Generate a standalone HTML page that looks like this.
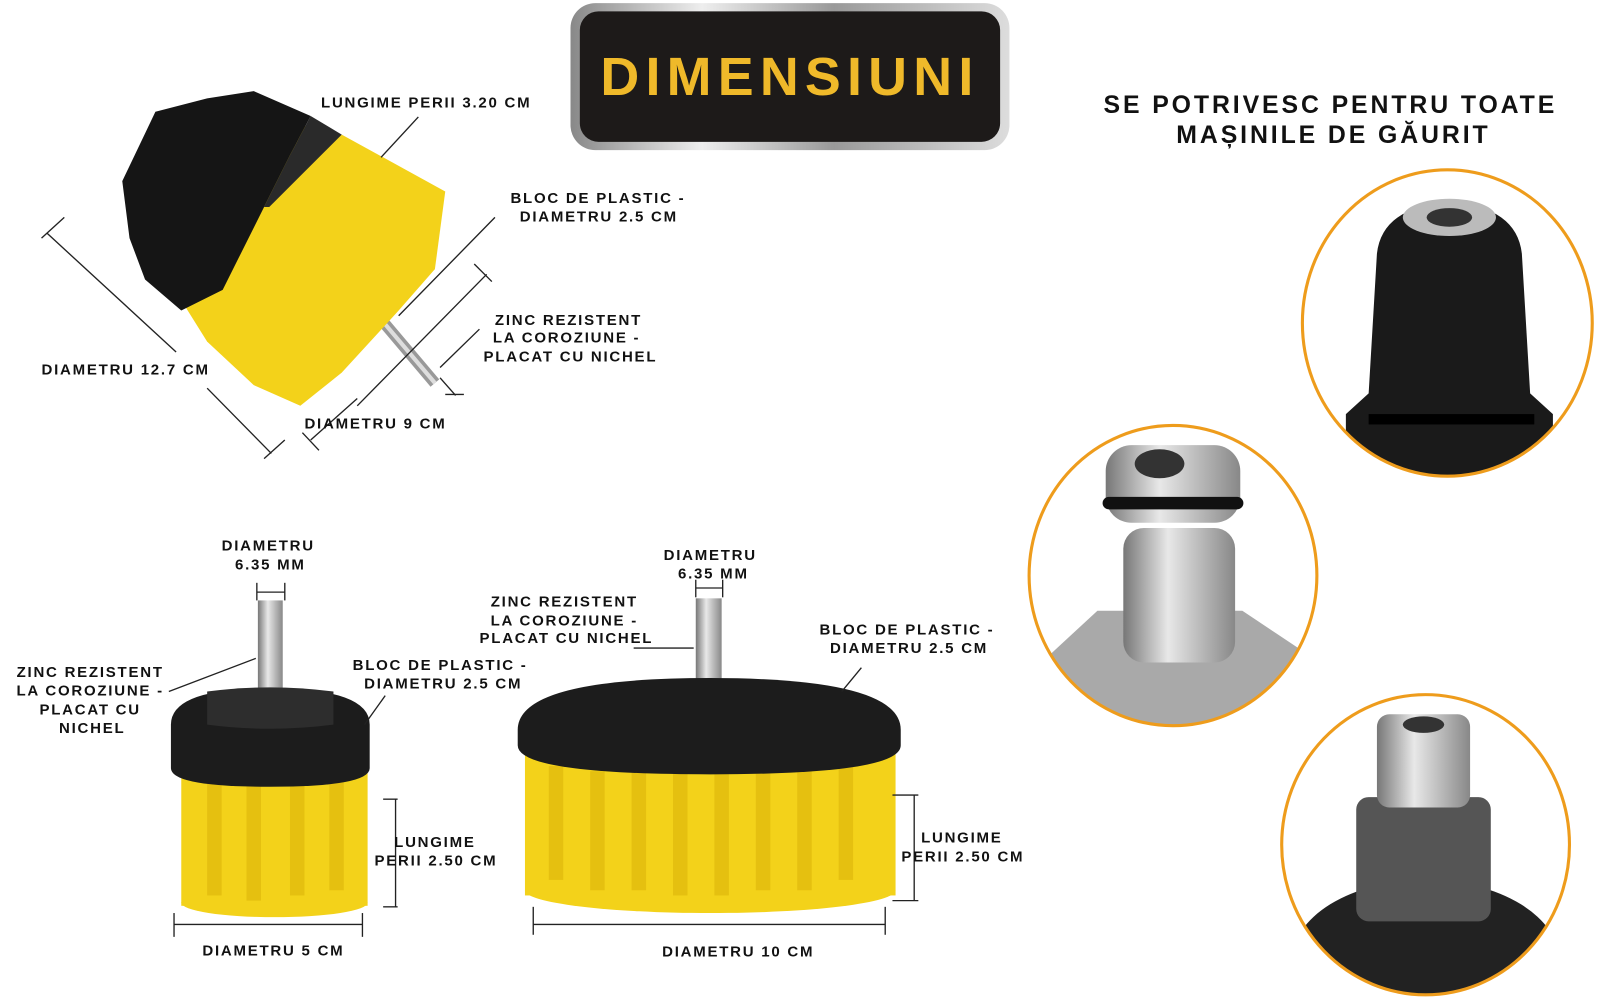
<!DOCTYPE html>
<html><head><meta charset="utf-8"><style>
html,body{margin:0;padding:0;background:#fff;}
svg{display:block}
text{font-family:"Liberation Sans",sans-serif;font-weight:bold;fill:#111;}
.l{font-size:14.5px;letter-spacing:1.7px;}
</style></head><body>
<svg width="1611" height="1000" viewBox="0 0 1556 966" xmlns="http://www.w3.org/2000/svg">
<defs>
<linearGradient id="sil" x1="0" y1="0" x2="1" y2="0"><stop offset="0" stop-color="#888"/><stop offset="0.3" stop-color="#eee"/><stop offset="0.6" stop-color="#999"/><stop offset="1" stop-color="#ddd"/></linearGradient>
<linearGradient id="met" x1="0" y1="0" x2="1" y2="0"><stop offset="0" stop-color="#777"/><stop offset="0.4" stop-color="#e8e8e8"/><stop offset="1" stop-color="#888"/></linearGradient>
<clipPath id="c1"><ellipse cx="1398" cy="312" rx="140" ry="148"/></clipPath>
<clipPath id="c2"><ellipse cx="1133" cy="556" rx="139" ry="145"/></clipPath>
<clipPath id="c3"><ellipse cx="1377" cy="816" rx="139" ry="145"/></clipPath>
</defs>
<!-- title -->
<rect x="551" y="3" width="424" height="142" rx="24" fill="url(#sil)"/>
<rect x="560" y="11" width="406" height="126" rx="18" fill="#1d1a19"/>
<text x="763" y="92" text-anchor="middle" style="font-size:52px;letter-spacing:6px;fill:#efb92a">DIMENSIUNI</text>
<text x="1285" y="109" text-anchor="middle" style="font-size:24px;letter-spacing:2.8px">SE POTRIVESC PENTRU TOATE</text>
<text x="1288" y="138" text-anchor="middle" style="font-size:24px;letter-spacing:2.8px">MAȘINILE DE GĂURIT</text>

<!-- top brush -->
<line x1="365" y1="305" x2="420" y2="370" stroke="#999" stroke-width="11"/>
<line x1="365" y1="305" x2="420" y2="370" stroke="#ddd" stroke-width="4"/>
<polygon points="245,110 330,130 430,185 420,260 385,300 330,360 290,392 245,372 200,330 175,290 205,200" fill="#f3d21a"/>
<polygon points="118,175 150,108 200,95 245,88 300,112 280,150 255,200 230,250 215,280 175,300 140,270 125,230" fill="#151515"/>
<polygon points="300,112 330,130 300,160 260,200 255,200 280,150" fill="#2a2a2a"/>
<!-- top dim lines -->
<g stroke="#222" stroke-width="1.3" fill="none">
<line x1="45" y1="225" x2="170" y2="340"/><line x1="200" y1="375" x2="262" y2="438"/>
<line x1="40" y1="230" x2="62" y2="210"/><line x1="255" y1="443" x2="275" y2="425"/>
<line x1="300" y1="425" x2="345" y2="385"/><line x1="345" y1="392" x2="470" y2="265"/>
<line x1="292" y1="418" x2="308" y2="435"/><line x1="458" y1="255" x2="475" y2="272"/>
<line x1="368" y1="152" x2="404" y2="113"/>
<line x1="385" y1="305" x2="478" y2="210"/>
<line x1="425" y1="355" x2="463" y2="318"/>
<line x1="425" y1="365" x2="440" y2="382"/><line x1="430" y1="381" x2="448" y2="381"/>
</g>
<text class="l" x="310" y="104">LUNGIME PERII 3.20 CM</text>
<text class="l" x="493" y="196">BLOC DE PLASTIC -</text>
<text class="l" x="502" y="214">DIAMETRU 2.5 CM</text>
<text class="l" x="478" y="314">ZINC REZISTENT</text>
<text class="l" x="476" y="331">LA COROZIUNE -</text>
<text class="l" x="467" y="349">PLACAT CU NICHEL</text>
<text class="l" x="40" y="362">DIAMETRU 12.7 CM</text>
<text class="l" x="294" y="414">DIAMETRU 9 CM</text>

<!-- bottom-left brush -->
<rect x="249" y="580" width="24" height="85" fill="url(#met)"/>
<rect x="175" y="725" width="180" height="150" fill="#f3d21a"/>
<ellipse cx="265" cy="872" rx="90" ry="14" fill="#f3d21a"/>
<g fill="#e5c010"><rect x="200" y="745" width="14" height="120"/><rect x="238" y="745" width="14" height="125"/><rect x="280" y="745" width="14" height="120"/><rect x="318" y="745" width="14" height="115"/></g>
<path d="M165 700 Q165 665 260 665 Q357 665 357 700 L357 742 Q357 760 260 760 Q165 760 165 742Z" fill="#1c1c1c"/>
<path d="M200 668 L200 700 Q260 708 322 700 L322 668 Q260 660 200 668Z" fill="#2d2d2d"/>
<!-- bottom-middle brush -->
<rect x="672" y="578" width="25" height="82" fill="url(#met)"/>
<rect x="507" y="720" width="358" height="145" fill="#f3d21a"/>
<ellipse cx="686" cy="860" rx="179" ry="22" fill="#f3d21a"/>
<g fill="#e5c010"><rect x="530" y="740" width="14" height="110"/><rect x="570" y="745" width="14" height="115"/><rect x="610" y="745" width="14" height="115"/><rect x="650" y="745" width="14" height="120"/><rect x="690" y="745" width="14" height="120"/><rect x="730" y="745" width="14" height="115"/><rect x="770" y="745" width="14" height="115"/><rect x="810" y="740" width="14" height="110"/></g>
<path d="M500 705 Q500 655 686 655 Q870 655 870 705 L870 720 Q870 748 686 748 Q500 748 500 720Z" fill="#1c1c1c"/>
<g stroke="#222" stroke-width="1.3" fill="none">
<line x1="248" y1="572" x2="275" y2="572"/><line x1="248" y1="563" x2="248" y2="580"/><line x1="275" y1="563" x2="275" y2="580"/>
<line x1="672" y1="568" x2="698" y2="568"/><line x1="672" y1="560" x2="672" y2="577"/><line x1="698" y1="560" x2="698" y2="577"/>
<line x1="163" y1="668" x2="247" y2="636"/>
<line x1="352" y1="700" x2="372" y2="672"/>
<line x1="612" y1="626" x2="670" y2="626"/>
<line x1="813" y1="668" x2="832" y2="645"/>
<line x1="382" y1="772" x2="382" y2="876"/><line x1="370" y1="772" x2="384" y2="772"/><line x1="370" y1="876" x2="384" y2="876"/>
<line x1="883" y1="768" x2="883" y2="870"/><line x1="862" y1="768" x2="887" y2="768"/><line x1="862" y1="870" x2="887" y2="870"/>
<line x1="168" y1="893" x2="350" y2="893"/><line x1="168" y1="882" x2="168" y2="905"/><line x1="350" y1="882" x2="350" y2="905"/>
<line x1="515" y1="893" x2="855" y2="893"/><line x1="515" y1="876" x2="515" y2="903"/><line x1="855" y1="876" x2="855" y2="903"/>
</g>
<text class="l" x="259" y="532" text-anchor="middle">DIAMETRU</text>
<text class="l" x="261" y="550" text-anchor="middle">6.35 MM</text>
<text class="l" x="686" y="541" text-anchor="middle">DIAMETRU</text>
<text class="l" x="689" y="559" text-anchor="middle">6.35 MM</text>
<text class="l" x="87" y="654" text-anchor="middle">ZINC REZISTENT</text>
<text class="l" x="87" y="672" text-anchor="middle">LA COROZIUNE -</text>
<text class="l" x="87" y="690" text-anchor="middle">PLACAT CU</text>
<text class="l" x="89" y="708" text-anchor="middle">NICHEL</text>
<text class="l" x="545" y="586" text-anchor="middle">ZINC REZISTENT</text>
<text class="l" x="545" y="604" text-anchor="middle">LA COROZIUNE -</text>
<text class="l" x="547" y="621" text-anchor="middle">PLACAT CU NICHEL</text>
<text class="l" x="425" y="647" text-anchor="middle">BLOC DE PLASTIC -</text>
<text class="l" x="428" y="665" text-anchor="middle">DIAMETRU 2.5 CM</text>
<text class="l" x="876" y="613" text-anchor="middle">BLOC DE PLASTIC -</text>
<text class="l" x="878" y="631" text-anchor="middle">DIAMETRU 2.5 CM</text>
<text class="l" x="420" y="818" text-anchor="middle">LUNGIME</text>
<text class="l" x="421" y="836" text-anchor="middle">PERII 2.50 CM</text>
<text class="l" x="929" y="814" text-anchor="middle">LUNGIME</text>
<text class="l" x="930" y="832" text-anchor="middle">PERII 2.50 CM</text>
<text class="l" x="264" y="923" text-anchor="middle">DIAMETRU 5 CM</text>
<text class="l" x="713" y="924" text-anchor="middle">DIAMETRU 10 CM</text>

<!-- circles -->
<g clip-path="url(#c1)">
<rect x="1250" y="160" width="300" height="310" fill="#fff"/>
<path d="M1330 245 Q1335 200 1400 195 Q1465 200 1470 245 L1478 380 L1500 400 L1500 470 L1300 470 L1300 400 L1322 380Z" fill="#1a1a1a"/>
<ellipse cx="1400" cy="210" rx="45" ry="18" fill="#bbb"/><ellipse cx="1400" cy="210" rx="22" ry="9" fill="#333"/>
<rect x="1322" y="400" width="160" height="10" fill="#000"/>
</g>
<ellipse cx="1398" cy="312" rx="140" ry="148" fill="none" stroke="#ee9c1c" stroke-width="3"/>
<g clip-path="url(#c2)">
<rect x="990" y="410" width="290" height="300" fill="#fff"/>
<polygon points="995,650 1060,590 1200,590 1275,640 1275,710 995,710" fill="#a9a9a9"/>
<rect x="1085" y="510" width="108" height="130" rx="20" fill="url(#met)"/>
<rect x="1068" y="430" width="130" height="75" rx="25" fill="url(#met)"/>
<rect x="1065" y="480" width="136" height="12" rx="6" fill="#111"/>
<ellipse cx="1120" cy="448" rx="24" ry="14" fill="#333"/>
</g>
<ellipse cx="1133" cy="556" rx="139" ry="145" fill="none" stroke="#ee9c1c" stroke-width="3"/>
<g clip-path="url(#c3)">
<rect x="1235" y="670" width="290" height="300" fill="#fff"/>
<ellipse cx="1377" cy="930" rx="130" ry="80" fill="#222"/>
<rect x="1310" y="770" width="130" height="120" rx="12" fill="#555"/>
<rect x="1330" y="690" width="90" height="90" rx="12" fill="url(#met)"/>
<ellipse cx="1375" cy="700" rx="20" ry="8" fill="#333"/>
</g>
<ellipse cx="1377" cy="816" rx="139" ry="145" fill="none" stroke="#ee9c1c" stroke-width="3"/>
</svg>
</body></html>
